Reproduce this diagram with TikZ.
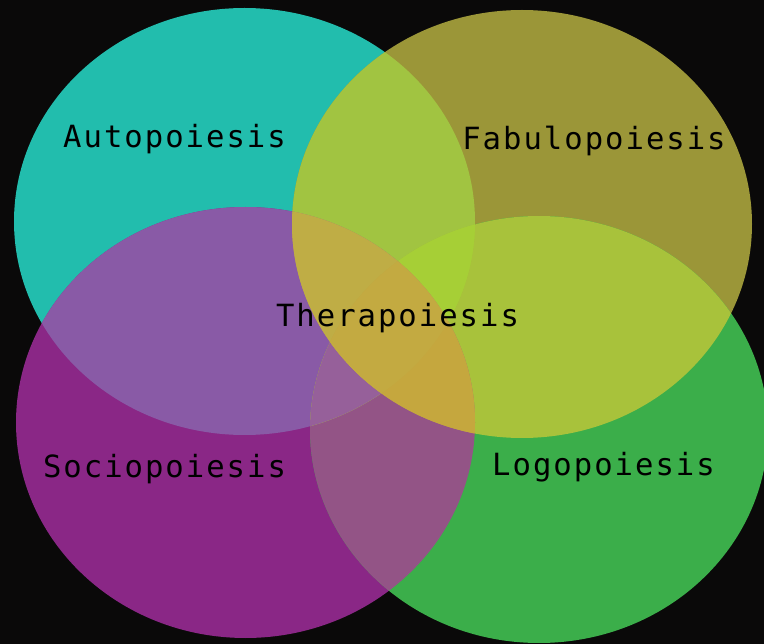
\documentclass[tikz,border=0pt]{standalone}
\usepackage{fontspec}
\newfontfamily\labelfont[LetterSpace=6.5]{DejaVu Sans Mono}
\definecolor{bg}{RGB}{10,9,9}
\definecolor{cA}{RGB}{34,189,173}
\definecolor{cB}{RGB}{155,150,56}
\definecolor{cC}{RGB}{138,39,134}
\definecolor{cD}{RGB}{59,174,74}
\definecolor{cAB}{RGB}{161,196,65}
\definecolor{cAC}{RGB}{137,90,166}
\definecolor{cBD}{RGB}{168,194,59}
\definecolor{cCD}{RGB}{147,84,134}
\definecolor{cBC}{RGB}{194,171,66}
\definecolor{cAD}{RGB}{166,206,54}
\definecolor{cABD}{RGB}{166,207,54}
\definecolor{cACD}{RGB}{150,96,154}
\definecolor{cABC}{RGB}{191,173,69}
\definecolor{cBCD}{RGB}{197,167,62}
\definecolor{cABCD}{RGB}{195,170,65}
\def\EA{(244.5,221.5) ellipse [x radius=230.5pt, y radius=213.5pt]}
\def\EB{(522,224) ellipse [x radius=230pt, y radius=214pt]}
\def\EC{(245.5,422.5) ellipse [x radius=229.5pt, y radius=215.5pt]}
\def\ED{(539,429.5) ellipse [x radius=229pt, y radius=213.5pt]}
\tikzset{lbl/.style={inner sep=0pt, anchor=base, text=black, font=\labelfont\fontsize{30.6}{36}\selectfont}}
\begin{document}
\begin{tikzpicture}[x=1pt,y=-1pt]
\fill[bg] (0,0) rectangle (764,644);
\useasboundingbox (0,0) rectangle (764,644);
% single ellipses
\fill[cA] \EA;
\fill[cB] \EB;
\fill[cC] \EC;
\fill[cD] \ED;
% pairwise overlaps
\begin{scope}\clip \EA; \fill[cAB] \EB; \end{scope}
\begin{scope}\clip \EA; \fill[cAC] \EC; \end{scope}
\begin{scope}\clip \EB; \fill[cBD] \ED; \end{scope}
\begin{scope}\clip \EC; \fill[cCD] \ED; \end{scope}
\begin{scope}\clip \EA; \fill[cAD] \ED; \end{scope}
\begin{scope}\clip \EB; \fill[cBC] \EC; \end{scope}
% triple overlaps
\begin{scope}\clip \EA; \clip \EB; \fill[cABD] \ED; \end{scope}
\begin{scope}\clip \EA; \clip \EC; \fill[cACD] \ED; \end{scope}
\begin{scope}\clip \EA; \clip \EB; \fill[cABC] \EC; \end{scope}
\begin{scope}\clip \EB; \clip \EC; \fill[cBCD] \ED; \end{scope}
% quadruple overlap
\begin{scope}\clip \EA; \clip \EB; \clip \EC; \fill[cABCD] \ED; \end{scope}
% labels
\node[lbl] (auto) at (174.5,148) {Autopoiesis};
\node[lbl] (fabu) at (594,150) {Fabulopoiesis};
\node[lbl] (thera) at (397.5,327) {Therapoiesis};
\node[lbl] (socio) at (164.5,477.5) {Sociopoiesis};
\node[lbl] (logo) at (603.5,475.5) {Logopoiesis};
\end{tikzpicture}
\end{document}
